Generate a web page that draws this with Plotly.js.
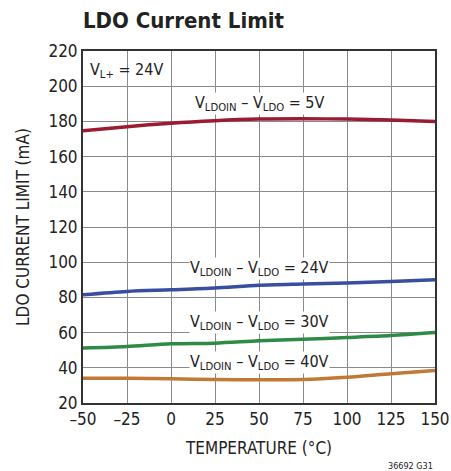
<!DOCTYPE html>
<html><head><meta charset="utf-8">
<script src="https://cdn.plot.ly/plotly-3.0.1.min.js"></script>
<style>body{margin:0;background:#fff}#c{width:451px;height:471px}</style>
</head><body><div id="c"></div>
<script>
const temps = [-50, -25, 0, 25, 50, 75, 100, 125, 150];
const limit5V  = [174.7, 177, 179, 180.4, 181.3, 181.5, 181.3, 180.8, 180];
const limit24V = [81.5, 83.4, 84.3, 85.3, 86.9, 87.6, 88.2, 89.1, 90];
const limit30V = [51.2, 52.1, 53.6, 54, 55.3, 56.2, 57.2, 58.3, 60];
const limit40V = [34, 34, 33.8, 33.3, 33.2, 33.3, 34.6, 36.6, 38.5];
const xTicks = [-50, -25, 0, 25, 50, 75, 100, 125, 150];
const xTickText = ['–50', '–25', '0', '25', '50', '75', '100', '125', '150'];
const seriesNames = ['5V', '24V', '30V', '40V'];
const colors = ['#9b1b30', '#3a4ea0', '#2e8b46', '#c07a35'];
const allSeries = [limit5V, limit24V, limit30V, limit40V];

const FONT = '"DejaVu Sans Condensed", "DejaVu Sans", sans-serif';
const traces = allSeries.map((ys, i) => ({
  x: temps, y: ys, type: 'scatter', mode: 'lines', name: seriesNames[i],
  line: {color: colors[i], width: 3.5, shape: 'spline', smoothing: 0.8},
  hoverinfo: 'skip'
}));

const label = n => 'V<sub>LDOIN</sub> – V<sub>LDO</sub> = ' + n;
const annFont = {family: FONT, size: 16, color: '#222'};
const annotations = [
  {x: -50, y: 216, xref: 'x', yref: 'y', xanchor: 'left', yanchor: 'top', xshift: 5,
   text: 'V<sub>L+</sub> = 24V', showarrow: false, font: annFont},
  {x: 50, y: 190, text: label('5V'), showarrow: false, bgcolor: '#fff', borderpad: 0, font: annFont},
  {x: 50, y: 96.5, text: label('24V'), showarrow: false, bgcolor: '#fff', borderpad: 0, font: annFont},
  {x: 50, y: 65.5, text: label('30V'), showarrow: false, bgcolor: '#fff', borderpad: 0, font: annFont},
  {x: 50, y: 43, text: label('40V'), showarrow: false, bgcolor: '#fff', borderpad: 0, font: annFont},
  {x: 1, y: 0, xref: 'paper', yref: 'paper', xanchor: 'right', yanchor: 'top', yshift: -56,
   text: '36692 G31', showarrow: false, font: {family: FONT, size: 9, color: '#222'}}
];

const layout = {
  width: 451, height: 471,
  margin: {l: 83, r: 16, t: 51, b: 68},
  paper_bgcolor: '#fff', plot_bgcolor: '#fff',
  showlegend: false,
  title: {text: '<b>LDO Current Limit</b>', x: 83/451, xanchor: 'left', y: 0.957, yanchor: 'middle',
          font: {family: FONT, size: 22, color: '#222'}},
  xaxis: {
    range: [-50, 150], tickvals: xTicks, ticktext: xTickText,
    showgrid: true, gridcolor: '#8a8a8a', gridwidth: 1,
    showline: true, linecolor: '#333', linewidth: 2, mirror: true,
    zeroline: false, ticks: '', fixedrange: true,
    tickfont: {family: FONT, size: 17, color: '#222'},
    title: {text: 'TEMPERATURE (°C)', font: {family: FONT, size: 17, color: '#222'}, standoff: 14}
  },
  yaxis: {
    range: [20, 220], dtick: 20, tick0: 20,
    showgrid: true, gridcolor: '#8a8a8a', gridwidth: 1,
    showline: true, linecolor: '#333', linewidth: 2, mirror: true,
    zeroline: false, ticks: '', fixedrange: true,
    tickfont: {family: FONT, size: 17, color: '#222'},
    title: {text: 'LDO CURRENT LIMIT (mA)', font: {family: FONT, size: 17, color: '#222'}, standoff: 14}
  },
  annotations: annotations
};

// Tidy Plotly's subscript markup: drop invisible baseline-reset tspans and give
// every tspan an explicit pixel font size and pixel dy.
function tidySubscripts() {
  const NS = 'http://www.w3.org/2000/svg';
  // first, record each tspan's own font size and dy in px
  document.querySelectorAll('#c tspan').forEach(ts => {
    const px = parseFloat(getComputedStyle(ts).fontSize);
    const dy = ts.getAttribute('dy');
    ts.__px = px;
    ts.__dy = dy ? parseFloat(dy) * (dy.indexOf('em') >= 0 ? px : 1) : 0;
  });
  document.querySelectorAll('#c tspan').forEach(ts => {
    if (ts.textContent.replace(/\u200b/g, '').length > 0 || ts.children.length) return;
    const basePx = parseFloat(getComputedStyle(ts.parentNode).fontSize);
    let next = ts.nextSibling;
    if (next && next.nodeType === 3) {
      const wrap = document.createElementNS(NS, 'tspan');
      wrap.textContent = next.textContent;
      next.parentNode.replaceChild(wrap, next);
      wrap.__px = basePx; wrap.__dy = 0;
      next = wrap;
    }
    if (next && next.nodeType === 1) next.__dy = (next.__dy || 0) + ts.__dy;
    ts.parentNode.removeChild(ts);
  });
  document.querySelectorAll('#c tspan').forEach(ts => {
    const px = ts.__px || parseFloat(getComputedStyle(ts).fontSize);
    ts.style.fontSize = px + 'px';
    ts.setAttribute('font-size', px);
    if (ts.__dy) ts.setAttribute('dy', ts.__dy + 'px');
  });
}
Plotly.newPlot('c', traces, layout, {staticPlot: true, displayModeBar: false}).then(tidySubscripts);
</script></body></html>
